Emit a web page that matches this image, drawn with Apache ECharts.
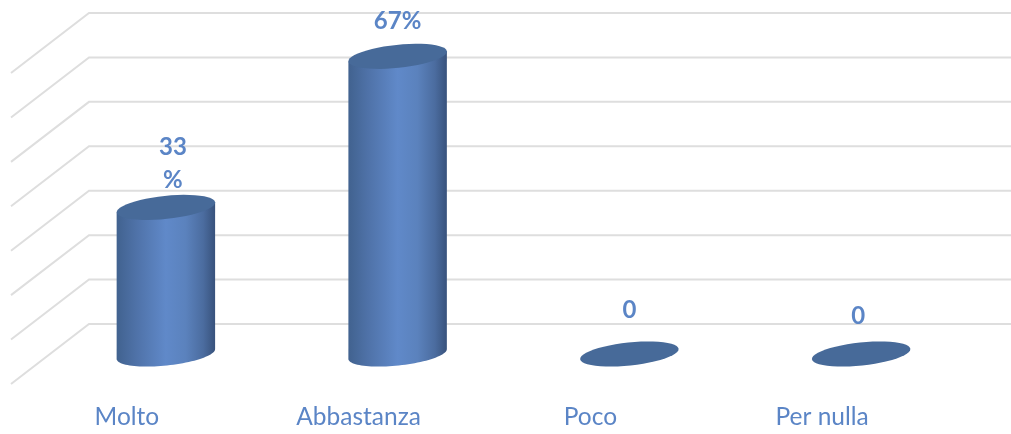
<!DOCTYPE html>
<html>
<head>
<meta charset="utf-8">
<style>
html, body { margin: 0; padding: 0; background: #fff; }
#chart { width: 1011px; height: 434px; }
</style>
<script src="https://cdn.jsdelivr.net/npm/echarts@6/dist/echarts.min.js"></script>
</head>
<body>
<div id="chart"></div>
<script>
// dati
var categories = ['Molto', 'Abbastanza', 'Poco', 'Per nulla'];
var values = [33, 67, 0, 0];
var valueLabels = ['33\n%', '67%', '0', '0'];
var yTicks = [0, 10, 20, 30, 40, 50, 60, 70];

var textColor = '#5b85c6';
var gridColor = '#dedede';
var topColor = '#476a99';
var fontName = 'Lato';

// finta prospettiva: il fondo del grafico e spostato rispetto al piano frontale
var depthX = 78;
var depthY = 60;
var radiusX = 49.5;
var radiusY = 11.5;
var tilt = 6 * Math.PI / 180;
// le etichette nell'originale sono spostate a mano
var labelShift = [[7, -44], [0, -35], [0, -44], [-3, -38]];

var bodyFill = {
    type: 'linear', x: 0, y: 0, x2: 1, y2: 0,
    colorStops: [
        { offset: 0, color: '#41628f' },
        { offset: 0.2, color: '#4f72a8' },
        { offset: 0.5, color: '#6089c9' },
        { offset: 0.7, color: '#5b82bd' },
        { offset: 0.88, color: '#4b6c9f' },
        { offset: 1, color: '#38527c' }
    ]
};

function ellipsePoint(cx, cy, t) {
    var ex = radiusX * Math.cos(t);
    var ey = radiusY * Math.sin(t);
    return [
        cx + ex * Math.cos(tilt) + ey * Math.sin(tilt),
        cy - ex * Math.sin(tilt) + ey * Math.cos(tilt)
    ];
}

function ellipseArc(cx, cy, from, to) {
    var pts = [];
    for (var i = 0; i <= 48; i++) {
        pts.push(ellipsePoint(cx, cy, from + (to - from) * i / 48));
    }
    return pts;
}

function renderGrid(params, api) {
    var sys = params.coordSys;
    var p = api.coord([0, api.value(1)]);
    var style = { stroke: gridColor, lineWidth: 2, fill: null };
    return {
        type: 'polyline',
        shape: {
            points: [
                [sys.x, p[1]],
                [sys.x + depthX, p[1] - depthY],
                [sys.x + sys.width + depthX, p[1] - depthY]
            ]
        },
        style: style
    };
}

function renderCylinder(params, api) {
    var i = api.value(0);
    var base = api.coord([i, 0]);
    var top = api.coord([i, api.value(1)]);
    var cx = base[0] + depthX / 2;
    var baseY = base[1] - depthY / 2;
    var topY = top[1] - depthY / 2;
    var children = [];
    if (api.value(1) > 0) {
        var body = [ellipsePoint(cx, topY, 0)]
            .concat(ellipseArc(cx, baseY, 0, Math.PI))
            .concat([ellipsePoint(cx, topY, Math.PI)]);
        children.push({
            type: 'polygon',
            shape: { points: body },
            style: { fill: bodyFill }
        });
    }
    children.push({
        type: 'polygon',
        shape: { points: ellipseArc(cx, topY, 0, Math.PI * 2) },
        style: { fill: topColor }
    });
    children.push({
        type: 'text',
        x: cx + labelShift[i][0],
        y: topY + labelShift[i][1],
        style: {
            text: valueLabels[i],
            fill: textColor,
            font: 'bold 24px ' + fontName,
            lineHeight: 33,
            align: 'center',
            verticalAlign: 'middle'
        }
    });
    return { type: 'group', children: children };
}

var option = {
    animation: false,
    backgroundColor: '#fff',
    grid: { left: 11, right: 73, top: 73, bottom: 50 },
    xAxis: {
        type: 'category',
        data: categories,
        axisLine: { show: false },
        axisTick: { show: false },
        axisLabel: {
            color: textColor,
            fontFamily: fontName,
            fontSize: 24.5,
            margin: 21
        }
    },
    yAxis: {
        type: 'value',
        min: 0,
        max: 70,
        interval: 10,
        axisLine: { show: false },
        axisTick: { show: false },
        axisLabel: { show: false },
        splitLine: { show: false }
    },
    series: [
        {
            type: 'custom',
            name: 'griglia',
            silent: true,
            z: 1,
            renderItem: renderGrid,
            data: yTicks.map(function (v) { return [0, v]; })
        },
        {
            type: 'custom',
            name: 'valori',
            z: 2,
            renderItem: renderCylinder,
            data: values.map(function (v, i) { return [i, v]; })
        }
    ]
};

var chart = echarts.init(document.getElementById('chart'));
chart.setOption(option);
</script>
</body>
</html>
